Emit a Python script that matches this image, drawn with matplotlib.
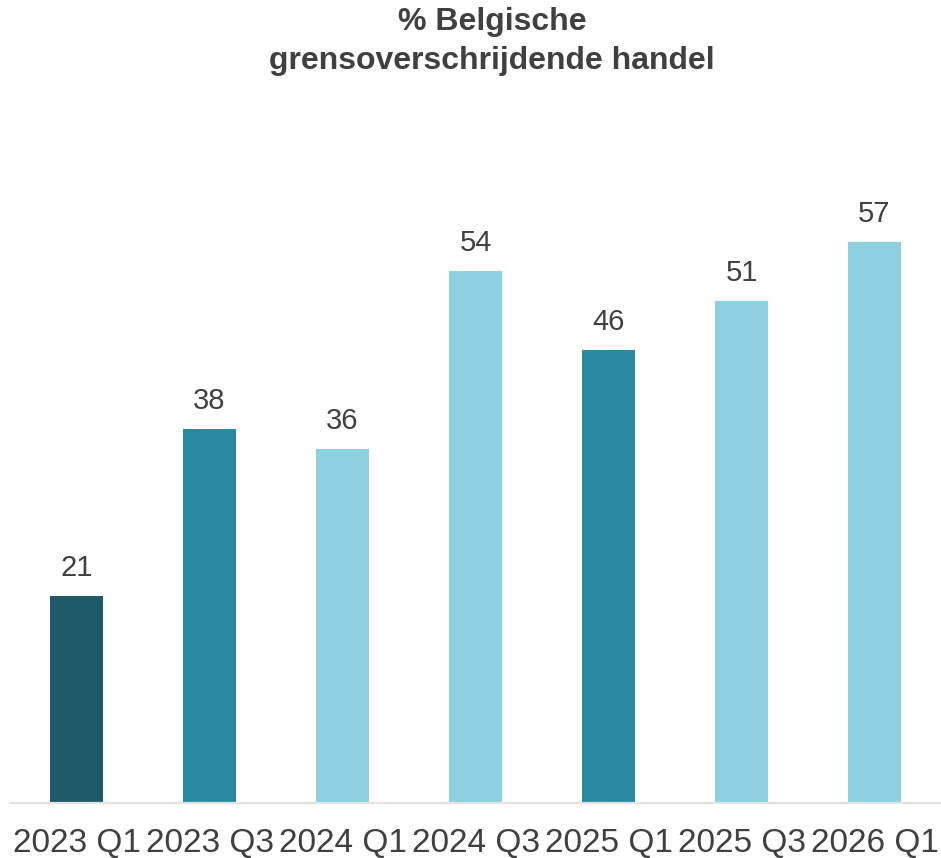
import matplotlib.pyplot as plt

plt.rcParams['font.family'] = ['Liberation Sans', 'DejaVu Sans']

categories = ['2023 Q1', '2023 Q3', '2024 Q1', '2024 Q3', '2025 Q1', '2025 Q3', '2026 Q1']
values = [21, 38, 36, 54, 46, 51, 57]
colors = ['#1E5A68', '#2A8A9F', '#8DD1E1', '#8DD1E1', '#2A8A9F', '#8DD1E1', '#8DD1E1']

W, H = 941, 858
fig = plt.figure(figsize=(W / 100, H / 100), dpi=100)
ax = fig.add_axes([10 / W, (H - 803) / H, 931 / W, (803 - 163) / H])

x = range(len(categories))
bars = ax.bar(x, values, width=0.4, color=colors)
for b, v in zip(bars, values):
    ax.annotate(str(v), (b.get_x() + b.get_width() / 2, v), xytext=(0, 10),
                textcoords='offset points', ha='center', va='bottom',
                fontsize=21, color='#404040')

ax.set_xlim(-0.5, len(categories) - 0.5)
ax.set_ylim(0, 65)
ax.set_xticks(list(x))
ax.set_xticklabels(categories, fontsize=24, color='#404040')
ax.tick_params(axis='x', length=0, pad=18)
ax.set_yticks([])
for s in ['top', 'right', 'left']:
    ax.spines[s].set_visible(False)
ax.spines['bottom'].set_color('#E3E3E3')
ax.spines['bottom'].set_linewidth(1.6)

fig.text(492 / W, 1 - 7 / H, '% Belgische\ngrensoverschrijdende handel', ha='center', va='top',
         fontsize=23, fontweight='bold', color='#404040', linespacing=1.38)

fig.savefig('out.png', dpi=100)
